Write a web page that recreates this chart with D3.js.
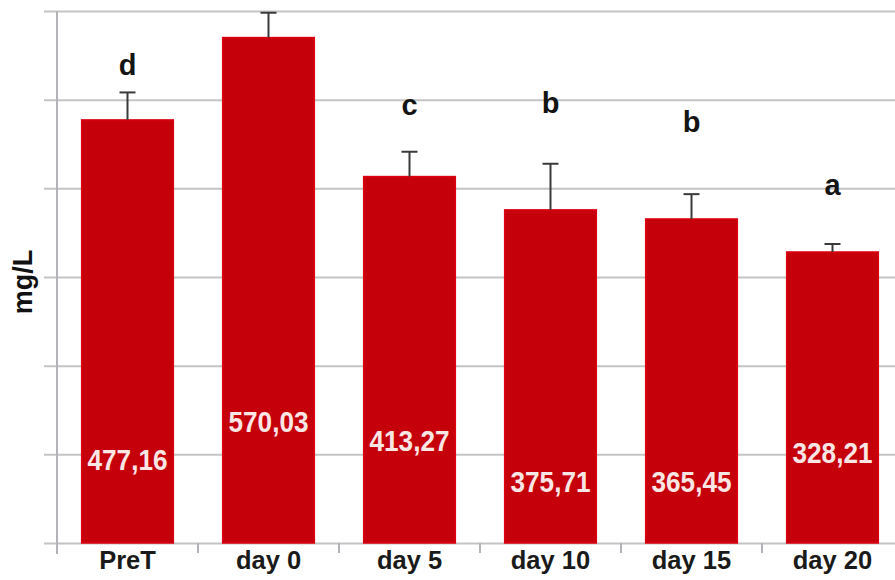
<!DOCTYPE html>
<html>
<head>
<meta charset="utf-8">
<script src="https://cdn.jsdelivr.net/npm/d3@7/dist/d3.min.js"></script>
<style>
  html, body { margin: 0; padding: 0; background: #fff; }
  svg { display: block; font-family: "Liberation Sans", Arial, sans-serif; }
</style>
</head>
<body>
<svg id="chart" width="895" height="580"></svg>
<script>
// Concentration (mg/L) per sampling time
const categories = ["PreT", "day 0", "day 5", "day 10", "day 15", "day 20"];
const means      = [477.16, 570.03, 413.27, 375.71, 365.45, 328.21];
const errors     = [31, 28, 28, 52, 28, 9];
const groups     = ["d", "", "c", "b", "b", "a"];
const yTicks     = [0, 100, 200, 300, 400, 500, 600];
const valueLabels = ["477,16", "570,03", "413,27", "375,71", "365,45", "328,21"];

// Heights (in mg/L) where the group letters and value labels sit
const letterLevel = [528, 0, 483, 485, 463.5, 392.5];
const labelLevel  = [82, 125, 104, 58, 57.5, 90];

(function draw() {
  const W = 895;
  const plotLeft = 57, plotTop = 11, plotBottom = 543;
  const svg = d3.select("#chart");

  const y = d3.scaleLinear().domain([0, 600]).range([plotBottom, plotTop]);
  const x = d3.scaleBand().domain(categories)
    .range([plotLeft, plotLeft + 6 * 141])
    .paddingInner(0.35).paddingOuter(0.175);
  const step = x.step();

  // horizontal gridlines, starting just left of the axis
  const grid = svg.append("g").attr("transform", "translate(44,0)")
    .call(d3.axisLeft(y).tickValues(yTicks).tickSize(-(W - 44)).tickFormat(""));
  grid.select(".domain").remove();
  grid.selectAll(".tick line").attr("stroke", "#c4c4c4").attr("stroke-width", 2);

  // vertical axis line
  svg.append("line")
    .attr("x1", plotLeft).attr("x2", plotLeft)
    .attr("y1", y(600)).attr("y2", plotBottom + 11)
    .attr("stroke", "#b4b4b8").attr("stroke-width", 2);

  // category separators below the baseline
  const bounds = d3.range(categories.length + 1).map(i => plotLeft + i * step);
  svg.append("g").selectAll("line").data(bounds).join("line")
    .attr("x1", d => d).attr("x2", d => d)
    .attr("y1", plotBottom).attr("y2", plotBottom + 10)
    .attr("stroke", "#b4b4b8").attr("stroke-width", 2);

  // bars
  svg.append("g").selectAll("rect").data(means).join("rect")
    .attr("x", (d, i) => x(categories[i]))
    .attr("y", d => y(d))
    .attr("width", x.bandwidth())
    .attr("height", d => y(0) - y(d))
    .attr("fill", "#c6000b")
    .attr("stroke", "#dc0010").attr("stroke-width", 1.5);

  // upper error bars
  const eb = svg.append("g").attr("stroke", "#3a3a3a").attr("stroke-width", 2);
  means.forEach((m, i) => {
    const cx = x(categories[i]) + x.bandwidth() / 2;
    eb.append("line").attr("x1", cx).attr("x2", cx)
      .attr("y1", y(m)).attr("y2", y(m + errors[i]));
    eb.append("line").attr("x1", cx - 8).attr("x2", cx + 8)
      .attr("y1", y(m + errors[i])).attr("y2", y(m + errors[i]));
  });

  // value labels inside the bars
  svg.append("g").selectAll("text").data(valueLabels).join("text")
    .attr("x", (d, i) => x(categories[i]) + x.bandwidth() / 2)
    .attr("y", (d, i) => y(labelLevel[i]))
    .attr("text-anchor", "middle")
    .attr("font-size", 30).attr("font-weight", "bold")
    .attr("fill", "#fbe6e6")
    .attr("textLength", 80).attr("lengthAdjust", "spacingAndGlyphs")
    .text(d => d);

  // significance letters
  svg.append("g").selectAll("text").data(groups).join("text")
    .attr("x", (d, i) => x(categories[i]) + x.bandwidth() / 2)
    .attr("y", (d, i) => y(letterLevel[i]))
    .attr("text-anchor", "middle")
    .attr("font-size", 29).attr("font-weight", "bold")
    .attr("fill", "#141414")
    .text(d => d);

  // category labels
  svg.append("g").selectAll("text").data(categories).join("text")
    .attr("x", d => x(d) + x.bandwidth() / 2)
    .attr("y", 569)
    .attr("text-anchor", "middle")
    .attr("font-size", 25.5).attr("font-weight", "bold")
    .attr("fill", "#1a1a1a")
    .text(d => d);

  // axis title
  svg.append("text")
    .attr("transform", "translate(32,282) rotate(-90)")
    .attr("text-anchor", "middle")
    .attr("font-size", 27).attr("font-weight", "bold")
    .attr("fill", "#111")
    .text("mg/L");
})();
</script>
</body>
</html>
